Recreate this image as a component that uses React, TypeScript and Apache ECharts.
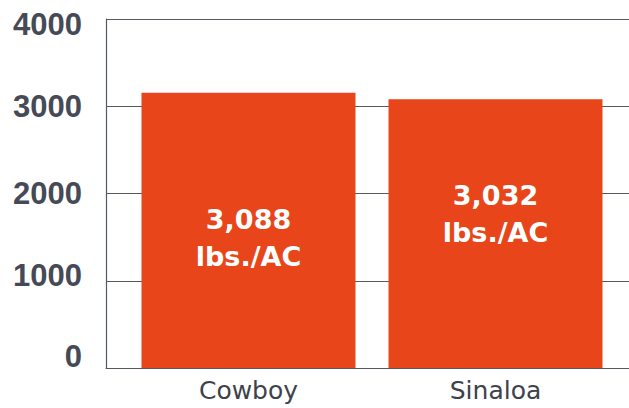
import React, { useEffect, useRef } from "react";
import * as echarts from "echarts";

const categories = ["Cowboy", "Sinaloa"];
const barValues = [3155, 3080];
const yieldLabels = ["3,088", "3,032"];
const unitLabel = "lbs./AC";
const yTicks = { min: 0, max: 4000, interval: 1000 };
const labelOffsets = [8, -20];

export default function App() {
  const ref = useRef<HTMLDivElement>(null);
  useEffect(() => {
    if (!ref.current) return;
    const chart = echarts.init(ref.current, undefined, { renderer: "svg" });
    const lineColor = "#555a62";
    const base = {
      fontFamily: "Liberation Sans",
      fontWeight: "bold",
      fontSize: 31,
      color: "#454a56",
    };
    chart.setOption({
      animation: false,
      backgroundColor: "#ffffff",
      grid: [
        { left: 106, right: 0, top: 19, bottom: 40 },
        { left: 125, right: 10, top: 19, bottom: 40 },
      ],
      xAxis: [
        {
          gridIndex: 0,
          type: "category",
          data: categories,
          axisLine: { show: true, lineStyle: { color: lineColor, width: 1.2 } },
          axisTick: { show: false },
          axisLabel: { show: false },
          splitLine: { show: false },
        },
        {
          gridIndex: 1,
          type: "category",
          data: categories,
          axisLine: { show: false },
          axisTick: { show: false },
          axisLabel: {
            show: true,
            margin: 10,
            fontFamily: "DejaVu Sans",
            fontSize: 25,
            color: "#3d424b",
          },
        },
      ],
      yAxis: [
        {
          gridIndex: 0,
          type: "value",
          min: yTicks.min,
          max: yTicks.max,
          interval: yTicks.interval,
          axisLine: { show: true, lineStyle: { color: lineColor, width: 1.2 } },
          axisTick: { show: false },
          splitLine: { show: true, lineStyle: { color: lineColor, width: 1.2 } },
          axisLabel: {
            margin: 24,
            formatter: (v: number) => {
              if (v === 0) return "{z|0}";
              if (v === 4000) return "{t|" + v + "}";
              if (v === 1000) return "{u|" + v + "}";
              return "{n|" + v + "}";
            },
            rich: {
              n: { ...base },
              z: { ...base, padding: [0, 0, 24, 0] },
              t: { ...base, padding: [10, 0, 0, 0] },
              u: { ...base, padding: [0, 0, 10, 0] },
            },
          },
        },
        {
          gridIndex: 1,
          type: "value",
          min: yTicks.min,
          max: yTicks.max,
          interval: yTicks.interval,
          show: false,
          splitLine: { show: false },
        },
      ],
      series: [
        {
          type: "bar",
          xAxisIndex: 1,
          yAxisIndex: 1,
          barWidth: 214,
          itemStyle: { color: "#e8461a" },
          data: barValues.map((v, i) => ({
            value: v,
            label: {
              show: true,
              position: "inside",
              offset: [0, labelOffsets[i]],
              formatter: yieldLabels[i] + "\n" + unitLabel,
              fontFamily: "DejaVu Sans",
              fontWeight: "bold",
              fontSize: 27,
              lineHeight: 37,
              color: "#ffffff",
            },
          })),
        },
      ],
    });
    return () => chart.dispose();
  }, []);
  return (
    <div
      ref={ref}
      style={{ position: "absolute", left: 0, top: 0, width: 629, height: 408 }}
    />
  );
}
